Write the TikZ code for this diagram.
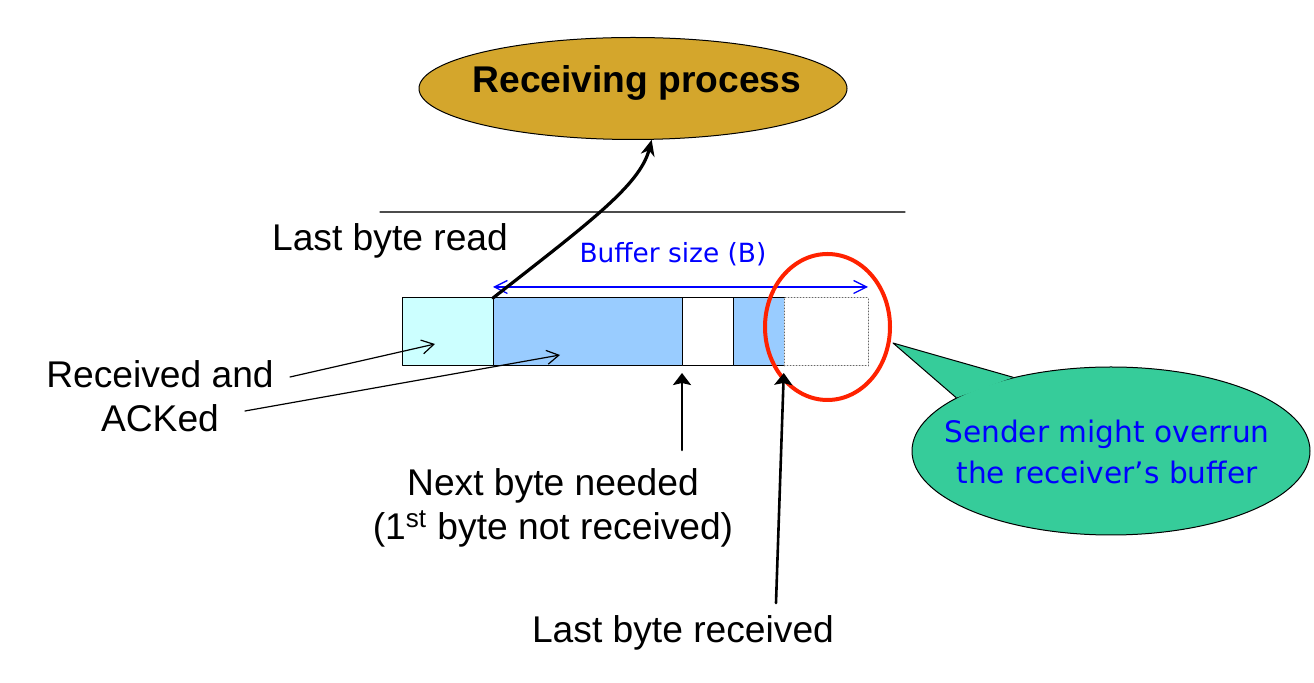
\documentclass[tikz,border=0pt]{standalone}
\usepackage{fontspec}
\setmainfont{Liberation Sans}
\newfontfamily\notefont{DejaVu Sans}
\usetikzlibrary{arrows.meta,positioning,shapes.geometric}
\definecolor{procgold}{RGB}{212,166,44}
\definecolor{ackcyan}{RGB}{204,255,255}
\definecolor{bufblue}{RGB}{153,204,255}
\definecolor{notegreen}{RGB}{54,204,154}
\definecolor{warnred}{RGB}{255,34,0}
\tikzset{
  seg/.style={draw=black,line width=.5pt,minimum height=34pt,inner sep=0pt,outer sep=0pt,anchor=west},
  lbl/.style={font=\fontsize{18.6}{22}\selectfont,align=center,inner sep=0pt},
  thinarrow/.style={line width=.6pt,-{Straight Barb[length=6pt,width=7pt]}},
  ptrarrow/.style={line width=1.3pt,-{Stealth[length=6pt,width=9pt,inset=1pt]},shorten >=3.5pt}
}
\begin{document}
\begin{tikzpicture}[line cap=round,line join=round,x=.5pt,y=-.5pt]
\fill[white] (0,0) rectangle (1314,683);
% receiving process
\node[ellipse,draw,line width=.5pt,fill=procgold,minimum width=214pt,minimum height=51pt,inner sep=0pt] (proc) at (633,88.5) {};
\node[font=\fontsize{18.6}{22}\selectfont\bfseries,anchor=base,inner sep=0pt] (proctext) at (637,93) {Receiving process};
\draw[line width=.6pt,black!70] (380,212) -- (905,212);
\node[lbl,anchor=base] (lastread) at (390,251) {Last byte read};
% buffer
\node[seg,fill=ackcyan,minimum width=45.5pt] (s1) at (402,332) {};
\node[seg,fill=bufblue,minimum width=94.5pt,right=0pt of s1] (s2) {};
\node[seg,fill=white,minimum width=25.5pt,right=0pt of s2] (s3) {};
\node[seg,fill=bufblue,minimum width=25.5pt,right=0pt of s3] (s4) {};
\node[seg,draw=black!60,densely dotted,fill=white,minimum width=42pt,right=0pt of s4] (s5) {};
\draw[blue,line width=.65pt,{Straight Barb[length=6.5pt,width=6.5pt]}-{Straight Barb[length=6.5pt,width=6.5pt]}] ([yshift=5.5pt]s2.north west) -- ([yshift=5.5pt]s5.north east);
\node[text=blue,font=\notefont\fontsize{13.2}{16}\selectfont,anchor=base,inner sep=0pt] (bsize) at (673,263) {Buffer size (B)};
\draw[line width=1.6pt,-{Stealth[length=8pt,width=7pt]}] (s2.north west) .. controls (590,222) and (640,185) .. (proc.290);
% overrun mark
\node[ellipse,draw=warnred,line width=2pt,minimum width=62.5pt,minimum height=73pt,inner sep=0pt] (warn) at (827.5,327) {};
% labels
\node[lbl] (acked) at (160,396) {Received and\\ACKed};
\coordinate (a1) at (290,377);
\coordinate (a2) at (245,411);
\draw[thinarrow] (a1) -- (435,344);
\draw[thinarrow] (a2) -- (560,355);
\node[lbl] (next) at (553,508) {Next byte needed\\(1\textsuperscript{st} byte not received)};
\coordinate (n1) at (682,450);
\draw[ptrarrow] (n1) -- (s3.south west);
\node[lbl,anchor=base] (lastrcv) at (683,643) {Last byte received};
\coordinate (r1) at (776,603);
\draw[ptrarrow] (r1) -- (s4.south east);
% callout
\node[ellipse,draw,line width=.5pt,fill=notegreen,minimum width=199pt,minimum height=84pt,inner sep=0pt] (note) at (1111,451) {};
\coordinate (tip) at (893,343);
\fill[notegreen] (note.143) -- (tip) -- (note.161) -- cycle;
\draw[line width=.5pt] (note.143) -- (tip) -- (note.161);
\node[text=blue,align=center,inner sep=0pt,font=\notefont\fontsize{14.8}{20.5}\selectfont] (notetext) at (1107,452) {Sender might overrun\\the receiver’s buffer};
\end{tikzpicture}
\end{document}
